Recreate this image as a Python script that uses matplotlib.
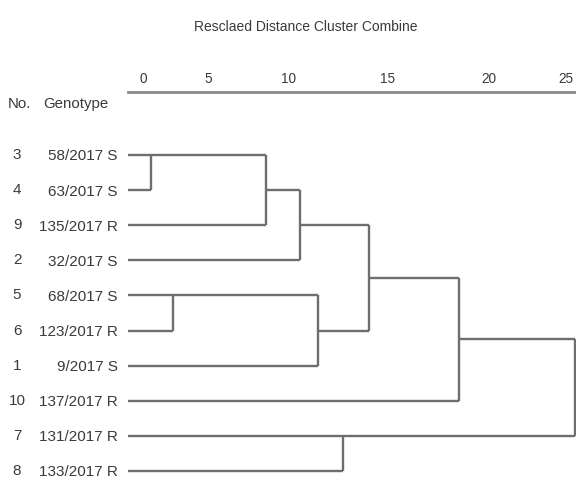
import matplotlib
matplotlib.use("Agg")
import matplotlib.pyplot as plt
import matplotlib.transforms as mtransforms

# ---- data ----
leaf_no = [3, 4, 9, 2, 5, 6, 1, 10, 7, 8]
genotypes = ["58/2017 S", "63/2017 S", "135/2017 R", "32/2017 S", "68/2017 S",
             "123/2017 R", "9/2017 S", "137/2017 R", "131/2017 R", "133/2017 R"]
# merges: (child_a, child_b, rescaled distance); children are ('L', leaf index) or ('N', merge index)
merge_a = [("L", 0), ("L", 4), ("N", 0), ("N", 2), ("N", 1), ("L", 8), ("N", 3), ("N", 6), ("N", 7)]
merge_b = [("L", 1), ("L", 5), ("L", 2), ("L", 3), ("L", 6), ("L", 9), ("N", 4), ("L", 7), ("N", 5)]
merge_h = [1.3, 2.5, 7.7, 9.6, 10.6, 12.0, 13.5, 18.5, 25.0]
tick_labels = ["0", "5", "10", "15", "20", "25"]
title = "Resclaed Distance Cluster Combine"

# ---- figure ----
W, H = 576, 479
fig = plt.figure(figsize=(W / 100, H / 100), dpi=100)
FAM = ["Liberation Sans Narrow", "Liberation Sans", "DejaVu Sans"]
TXT = "#3a3a3a"
LC = "#6e6e6e"

# axes: x 0..25 -> px 128..575 ; top spine at px 92, row 9 at px 471
x0px, x1px = 128, 575
row_px = (471 - 155) / 9.0
top_rows = (155 - 92) / row_px
ax = fig.add_axes([x0px / W, (H - 471) / H, (x1px - x0px) / W, (471 - 92) / H])
ax.set_xlim(0, 25)
ax.set_ylim(9, -top_rows)

for s in ["left", "right", "bottom"]:
    ax.spines[s].set_visible(False)
ax.spines["top"].set_color("#8a8a8a")
ax.spines["top"].set_linewidth(2.0)

# tick label positions (as laid out in the reference)
tick_pos = [0.85, 4.5, 9.0, 14.5, 20.2, 24.5]
ax.xaxis.tick_top()
ax.set_xticks(tick_pos)
ax.set_xticklabels(tick_labels, family=FAM, fontsize=9.8, color=TXT)
ax.tick_params(axis="x", length=0, pad=4.5)

ax.set_yticks(range(len(genotypes)))
ax.set_yticklabels(genotypes, family=FAM, fontsize=11, color=TXT)
ax.tick_params(axis="y", length=0, pad=7.5)

# leaf numbers
trans = mtransforms.blended_transform_factory(fig.transFigure, ax.transData)
for i, n in enumerate(leaf_no):
    ax.text(17 / W, i, str(n), transform=trans, ha="center", va="center",
            family=FAM, fontsize=11, color=TXT)
ax.text(8 / W, (104 - 155) / row_px, "No.", transform=trans, ha="left", va="center",
        family=FAM, fontsize=10.8, color=TXT)
ax.text(43 / W, (104 - 155) / row_px, "Genotype", transform=trans, ha="left", va="center",
        family=FAM, fontsize=10.8, color=TXT)

# dendrogram
node_x = []
node_y = []

def child_pos(c):
    kind, idx = c
    if kind == "L":
        return 0.0, float(idx)
    return node_x[idx], node_y[idx]

for a, b, h in zip(merge_a, merge_b, merge_h):
    xa, ya = child_pos(a)
    xb, yb = child_pos(b)
    kw = dict(color=LC, lw=1.7, solid_capstyle="butt", clip_on=False)
    ax.plot([xa, h], [ya, ya], **kw)
    ax.plot([xb, h], [yb, yb], **kw)
    ax.plot([h, h], [ya, yb], **kw)
    node_x.append(h)
    if a[0] == "L" and b[0] == "L":
        node_y.append(min(ya, yb))
    else:
        node_y.append((ya + yb) / 2.0)

fig.text(306 / W, 1 - 27 / H, title, ha="center", va="center",
         family=FAM, fontsize=10, color=TXT)

fig.savefig("out.png", dpi=100)
